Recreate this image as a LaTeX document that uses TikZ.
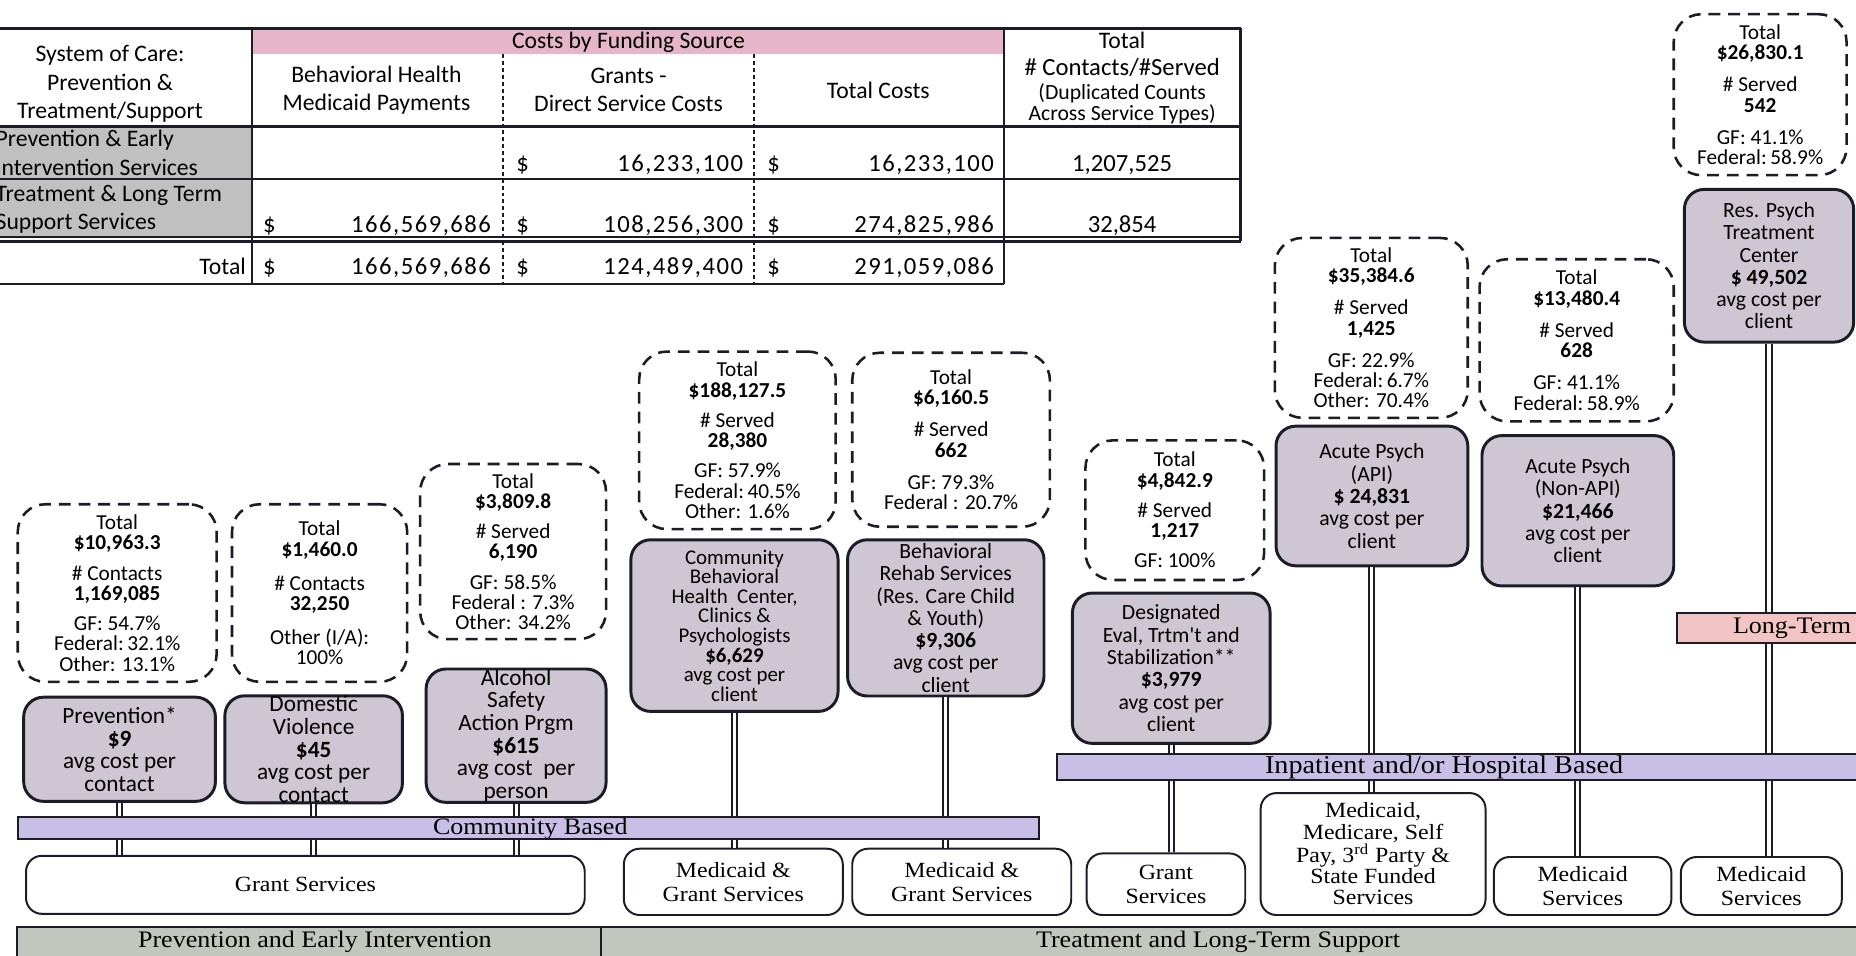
\documentclass[tikz,border=0pt]{standalone}
\usepackage{fontspec}
\setmainfont{Liberation Serif}
\newfontfamily\calfont{Carlito}
\newfontfamily\numfont[LetterSpace=6]{Carlito}
\newfontfamily\serfont[FakeStretch=1.1]{Liberation Serif}
\definecolor{edge}{RGB}{28,28,40}
\definecolor{svcfill}{RGB}{206,198,210}
\definecolor{barfill}{RGB}{200,190,230}
\definecolor{pinkhdr}{RGB}{230,182,200}
\definecolor{ltpink}{RGB}{243,196,196}
\definecolor{cellgray}{RGB}{192,192,192}
\definecolor{bandfill}{RGB}{194,198,190}
\newcommand\mybox[7]{%
 \pgfmathsetmacro\myw{(#4-#2)*0.6}%
 \pgfmathsetmacro\myh{(#5-#3)*0.6}%
 \node[#6, minimum width=\myw pt, minimum height=\myh pt] (#1) at ({(#2+#4)/2},{(#3+#5)/2}) {#7};}
\begin{document}
\begin{tikzpicture}[x=0.6pt,y=-0.6pt,
 tline/.style={draw=edge, line width=1.2pt},
 tdash/.style={draw=edge, line width=1.2pt, dash pattern=on 2pt off 1.5pt},
 tbl/.style={font=\calfont\fontsize{12}{14.4}\selectfont, inner sep=0pt},
 tnum/.style={font=\numfont\fontsize{12.5}{14}\selectfont, inner sep=0pt},
 tbls/.style={font=\calfont\fontsize{11}{11}\selectfont, inner sep=0pt},
 svc/.style={draw=edge, line width=1.5pt, rounded corners=10pt, fill=svcfill, align=center, inner sep=0pt, font=\calfont\fontsize{11}{11.3}\selectfont},
 svcL/.style={svc, font=\calfont\fontsize{11.8}{11.5}\selectfont},
 svcT/.style={svc, font=\calfont\fontsize{10.6}{9.9}\selectfont},
 info/.style={draw=edge, line width=1.3pt, dash pattern=on 6pt off 4pt, rounded corners=14pt, align=center, inner sep=0pt, font=\calfont\fontsize{10.8}{10.3}\selectfont},
 fund/.style={draw=edge, line width=1pt, rounded corners=8pt, fill=white, align=center, inner sep=0pt, font=\serfont\fontsize{11}{12}\selectfont},
 fundT/.style={fund, font=\serfont\fontsize{11}{10.7}\selectfont},
 bar/.style={draw=edge, line width=1pt, fill=barfill, inner sep=0pt},
 ltbar/.style={draw=edge, line width=1pt, fill=ltpink, inner sep=0pt},
 barlbl/.style={inner sep=0pt, font=\serfont\fontsize{12}{12}\selectfont},
 band/.style={draw=edge, line width=1pt, fill=bandfill, inner sep=0pt},
 bandlbl/.style={inner sep=0pt, font=\serfont\fontsize{12}{12}\selectfont},
 link/.style={draw=edge, line width=1pt, double=white, double distance=1.6pt}
]
\useasboundingbox (0,0) rectangle (1568,807);
\clip (0,0) rectangle (1568,807);
% ---------------- table ----------------
\fill[pinkhdr] (213,24) rectangle (848,46);
\fill[cellgray] (-40,107) rectangle (213,201);
\draw[tline] (-40,24) -- (1048,24) (-40,107) -- (1048,107) (-40,151) -- (1048,151)
  (-40,200) -- (1048,200) (-40,204) -- (1048,204) (-40,240) -- (848,240)
  (213,24) -- (213,240) (848,24) -- (848,240) (1048,24) -- (1048,204);
\draw[tdash] (425,46) -- (425,240) (637,46) -- (637,240);
\node[tbl, align=center] (h0) at (93,71) {System of Care:\\Prevention \&\\Treatment/Support};
\node[tbl, anchor=base] (hp) at (531,41) {Costs by Funding Source};
\node[tbl, align=center] (h1) at (318,76) {Behavioral Health\\Medicaid Payments};
\node[tbl, align=center] (h2) at (531,76) {Grants -\\Direct Service Costs};
\node[tbl] (h3) at (742,76) {Total Costs};
\node[tbl, anchor=base] (h4a) at (948,41) {Total};
\node[tbl, anchor=base, font=\calfont\fontsize{12.5}{13}\selectfont] (h4b) at (948,64) {\# Contacts/\#Served};
\node[tbls, anchor=base] (h4c) at (948,84) {(Duplicated Counts};
\node[tbls, anchor=base] (h4d) at (948,102) {Across Service Types)};
\node[tbl, align=left, anchor=west] (ra) at (-4,129) {Prevention \& Early\\Intervention Services};
\node[tbl, align=left, anchor=west] (rb) at (-4,177) {Treatment \& Long Term\\Support Services};
\node[tbl, anchor=base east] (rc) at (208,232) {Total};
% row 2
\node[tnum, anchor=base west] (d22) at (436,145) {\$};
\node[tnum, anchor=base east] (n22) at (628,145) {16,233,100};
\node[tnum, anchor=base west] (d23) at (648,145) {\$};
\node[tnum, anchor=base east] (n23) at (840,145) {16,233,100};
\node[tbl, anchor=base, font=\calfont\fontsize{12.5}{13}\selectfont] (n24) at (948,145) {1,207,525};
% row 3
\node[tnum, anchor=base west] (d31) at (222,196) {\$};
\node[tnum, anchor=base east] (n31) at (415,196) {166,569,686};
\node[tnum, anchor=base west] (d32) at (436,196) {\$};
\node[tnum, anchor=base east] (n32) at (628,196) {108,256,300};
\node[tnum, anchor=base west] (d33) at (648,196) {\$};
\node[tnum, anchor=base east] (n33) at (840,196) {274,825,986};
\node[tbl, anchor=base, font=\calfont\fontsize{12.5}{13}\selectfont] (n34) at (948,196) {32,854};
% total row
\node[tnum, anchor=base west] (d41) at (222,232) {\$};
\node[tnum, anchor=base east] (n41) at (415,232) {166,569,686};
\node[tnum, anchor=base west] (d42) at (436,232) {\$};
\node[tnum, anchor=base east] (n42) at (628,232) {124,489,400};
\node[tnum, anchor=base west] (d43) at (648,232) {\$};
\node[tnum, anchor=base east] (n43) at (840,232) {291,059,086};
% ---------------- bottom band ----------------
\mybox{b1}{14}{783}{508}{815}{band}{}
\node[bandlbl] (b1t) at (266,796) {Prevention and Early Intervention};
\mybox{b2}{508}{783}{1580}{815}{band}{}
\node[bandlbl] (b2t) at (1029,796) {Treatment and Long-Term Support};
% ---------------- funding boxes ----------------
\mybox{f1}{22}{723}{494}{772}{fund}{Grant Services}
\mybox{f2}{527}{717}{712}{773}{fund}{Medicaid \&\\Grant Services}
\mybox{f3}{720}{717}{905}{773}{fund}{Medicaid \&\\Grant Services}
\mybox{f4}{918}{721}{1052}{773}{fund}{Grant\\Services}
\mybox{f5}{1065}{670}{1255}{773}{fundT}{Medicaid,\\Medicare, Self\\Pay, 3\textsuperscript{rd} Party \&\\State Funded\\Services}
\mybox{f6}{1262}{724}{1412}{773}{fund}{Medicaid\\Services}
\mybox{f7}{1420}{724}{1556}{773}{fund}{Medicaid\\Services}
% ---------------- bars ----------------
\mybox{cb}{15}{690}{878}{709}{bar}{}
\node[barlbl] (cbt) at (448,700) {Community Based};
\mybox{ib}{893}{637}{1575}{659}{bar}{}
\node[barlbl, font=\serfont\fontsize{13}{13}\selectfont] (ibt) at (1220,648) {Inpatient and/or Hospital Based};
\mybox{lt}{1417}{518}{1575}{543}{ltbar}{}
\node[barlbl] (ltt) at (1514,531) {Long-Term};
% ---------------- service boxes ----------------
\mybox{s1}{20}{589}{182}{677}{svcL}{Prevention*\\\textbf{\$9}\\avg cost per\\contact}
\mybox{s2}{190}{589}{340}{677}{svcL}{Domestic\\Violence\\\textbf{\$45}\\avg cost per\\contact}
\mybox{s3}{360}{566}{512}{677}{svcL}{Alcohol\\Safety\\Action Prgm\\\textbf{\$615}\\avg cost~ per\\person}
\mybox{s4}{533}{456}{708}{601}{svcT}{Community\\Behavioral\\Health~ Center,\\Clinics \&\\Psychologists\\\textbf{\$6,629}\\avg cost per\\client}
\mybox{s5}{716}{456}{882}{588}{svc}{Behavioral\\Rehab Services\\(Res. Care Child\\\& Youth)\\\textbf{\$9,306}\\avg cost per\\client}
\mybox{s6}{906}{501}{1073}{628}{svc}{Designated\\Eval, Trtm't and\\Stabilization**\\\textbf{\$3,979}\\avg cost per\\client}
\mybox{s7}{1078}{360}{1240}{478}{svc}{Acute Psych\\(API)\\\textbf{\$ 24,831}\\avg cost per\\client}
\mybox{s8}{1252}{368}{1414}{495}{svc}{Acute Psych\\(Non-API)\\\textbf{\$21,466}\\avg cost per\\client}
\mybox{s9}{1423}{160}{1566}{289}{svc}{Res. Psych\\Treatment\\Center\\\textbf{\$ 49,502}\\avg cost per\\client}
% ---------------- info boxes ----------------
\mybox{i1}{15}{426}{183}{576}{info}{Total\\\textbf{\$10,963.3}\\[5pt]\#~Contacts\\\textbf{1,169,085}\\[5pt]GF: 54.7\%\\Federal:\,32.1\%\\Other: 13.1\%}
\mybox{i2}{196}{426}{344}{576}{info}{Total\\\textbf{\$1,460.0}\\[7pt]\#~Contacts\\\textbf{32,250}\\[7pt]Other (I/A):\\100\%}
\mybox{i3}{355}{392}{512}{540}{info}{Total\\\textbf{\$3,809.8}\\[5pt]\#~Served\\\textbf{6,190}\\[5pt]GF: 58.5\%\\Federal : 7.3\%\\Other: 34.2\%}
\mybox{i4}{540}{297}{706}{447}{info}{Total\\\textbf{\$188,127.5}\\[5pt]\#~Served\\\textbf{28,380}\\[5pt]GF: 57.9\%\\Federal:\,40.5\%\\Other: 1.6\%}
\mybox{i5}{720}{298}{887}{445}{info}{Total\\\textbf{\$6,160.5}\\[6pt]\#~Served\\\textbf{662}\\[6pt]GF: 79.3\%\\Federal : 20.7\%}
\mybox{i6}{917}{372}{1068}{490}{info}{Total\\\textbf{\$4,842.9}\\[5pt]\#~Served\\\textbf{1,217}\\[5pt]GF: 100\%}
\mybox{i7}{1077}{201}{1240}{353}{info}{Total\\\textbf{\$35,384.6}\\[6pt]\#~Served\\\textbf{1,425}\\[6pt]GF: 22.9\%\\Federal:\,6.7\%\\Other: 70.4\%}
\mybox{i8}{1250}{219}{1414}{356}{info}{Total\\\textbf{\$13,480.4}\\[6pt]\#~Served\\\textbf{628}\\[6pt]GF: 41.1\%\\Federal:\,58.9\%}
\mybox{i9}{1414}{12}{1560}{148}{info}{Total\\\textbf{\$26,830.1}\\[6pt]\#~Served\\\textbf{542}\\[6pt]GF: 41.1\%\\Federal:\,58.9\%}
% ---------------- connectors ----------------
\draw[link] (s1.south) -- (s1.south |- cb.north);
\draw[link] (s1.south |- cb.south) -- (s1.south |- f1.north);
\draw[link] (s2.south) -- (s2.south |- cb.north);
\draw[link] (s2.south |- cb.south) -- (s2.south |- f1.north);
\draw[link] (s3.south) -- (s3.south |- cb.north);
\draw[link] (s3.south |- cb.south) -- (s3.south |- f1.north);
\draw[link] (s4.south) -- (s4.south |- cb.north);
\draw[link] (s4.south |- cb.south) -- (s4.south |- f2.north);
\draw[link] (s5.south) -- (s5.south |- cb.north);
\draw[link] (s5.south |- cb.south) -- (s5.south |- f3.north);
\draw[link] (s6.south) -- (s6.south |- ib.north);
\draw[link] (s6.south |- ib.south) -- (s6.south |- f4.north);
\draw[link] (s7.south) -- (s7.south |- ib.north);
\draw[link] (s7.south |- ib.south) -- (s7.south |- f5.north);
\draw[link] (s8.south) -- (s8.south |- ib.north);
\draw[link] (s8.south |- ib.south) -- (s8.south |- f6.north);
\draw[link] (s9.south) -- (s9.south |- lt.north);
\draw[link] (s9.south |- lt.south) -- (s9.south |- ib.north);
\draw[link] (s9.south |- ib.south) -- (s9.south |- f7.north);
\end{tikzpicture}
\end{document}
